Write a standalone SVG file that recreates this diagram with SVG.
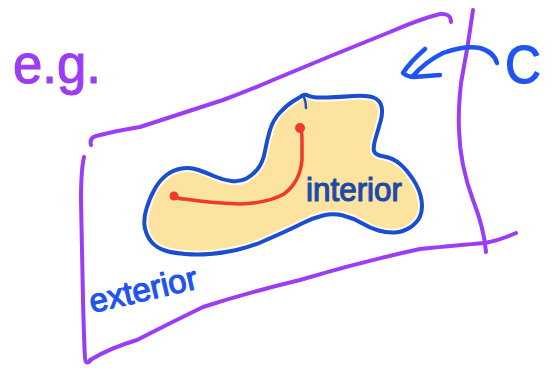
<svg xmlns="http://www.w3.org/2000/svg" width="558" height="370" viewBox="0 0 558 370">
<style>
.pu{fill:none;stroke:#9b3df4;stroke-width:4;stroke-linecap:round;stroke-linejoin:round}
.bl{fill:none;stroke:#1f55ee;stroke-width:4.5;stroke-linecap:round;stroke-linejoin:round}
.tx{font-family:"Liberation Sans","DejaVu Sans",sans-serif;stroke-width:1.2;stroke-linejoin:round}
</style>
<defs>
<path id="blob" d="M152,242.5 Q147,237 145,228.5 Q143,220 146.5,208.5 Q150,197 155,188.5 Q160,180 166.5,175 Q173,170 181.5,168.5 Q190,167 198.5,170 Q207,173 215,176.5 Q223,180 231.5,181 Q240,182 246.5,178.5 Q253,175 258,168.5 Q263,162 265,151 Q267,140 270,130 Q273,120 280,112.5 Q287,105 293.5,101 Q300,97 302.5,95.5 Q305,94 309,96 Q313,98 326.5,97.5 Q340,97 353.5,96 Q367,95 373.5,97.5 Q380,100 381.5,106.5 Q383,113 380.5,121.5 Q378,130 375.5,138.5 Q373,147 374,151 Q375,155 384,156.5 Q393,158 400,164 Q407,170 413.5,180 Q420,190 421.5,200 Q423,210 420,216.5 Q417,223 410,227.5 Q403,232 395,232.5 Q387,233 378.5,230.5 Q370,228 361.5,223 Q353,218 343,215.5 Q333,213 323,215.5 Q313,218 303,223 Q293,228 283,232.5 Q273,237 261.5,242 Q250,247 236.5,250 Q223,253 210,254 Q197,255 185,254 Q173,253 165,250.5 Q157,248 152,242.5 Z"/>
</defs>
<rect width="558" height="370" fill="#ffffff"/>
<g id="plane">
<path class="pu" d="M91,145 Q89,138 96,136 Q120,130 140,127 Q180,114 223,100 Q250,90 273,80 Q330,56 390,32 Q420,19 440,14 Q451,13 451,22"/>
<path class="pu" d="M84,157 Q81,170 81,200 L83,300 Q84,340 85,358 Q86,366 91,360"/>
<path class="pu" d="M90,360 Q110,348 137,340 Q170,323 203,307 Q250,292 300,280 Q360,262 420,249 Q460,245 485,243 Q503,239 516,233"/>
<path class="pu" d="M473,10 Q468,47 461,83 Q458,110 459,130 Q460,165 473,200 Q484,228 486,252"/>
</g>
<g id="region">
<use href="#blob" fill="#fde3a0"/>
<use href="#blob" fill="none" stroke="#ffffff" stroke-width="8" stroke-opacity="0.8"/>
<use href="#blob" fill="none" stroke="#1a4ed0" stroke-width="4" stroke-linejoin="round"/>
<path d="M304,97 Q306,102 306,108" fill="none" stroke="#1a4ed0" stroke-width="2.5" stroke-linecap="round"/>
</g>
<g id="curve">
<path d="M174,196 Q178,199 185,199 Q210,203 240,204 Q268,203 284,194 Q300,182 302,160 L302,140 Q302,130 300,127" fill="none" stroke="#f0392d" stroke-width="3.5" stroke-linecap="round" stroke-linejoin="round"/>
<circle cx="174" cy="196" r="4.5" fill="#f0392d"/>
<circle cx="300" cy="128" r="5" fill="#f0392d"/>
</g>
<g id="arrow">
<path class="bl" d="M497,63 Q494,52 480,48 Q465,45 443,53 Q425,62 413,76"/>
<path class="bl" d="M425,49 Q410,62 403,73 Q408,77 414,77 L440,75"/>
</g>
<text class="tx" x="13" y="83" font-size="56" fill="#9b3df4" stroke="#9b3df4" textLength="88" lengthAdjust="spacingAndGlyphs">e.g.</text>
<text class="tx" x="505" y="83" font-size="54" fill="#1f55ee" stroke="#1f55ee" textLength="36" lengthAdjust="spacingAndGlyphs">C</text>
<text class="tx" x="306" y="201" font-size="33" fill="#1d4aa8" stroke="#1d4aa8" textLength="96" lengthAdjust="spacingAndGlyphs">interior</text>
<text class="tx" x="92" y="313" font-size="33" fill="#1f55ee" stroke="#1f55ee" textLength="110" lengthAdjust="spacingAndGlyphs" transform="rotate(-13 92 313)">exterior</text>
</svg>
